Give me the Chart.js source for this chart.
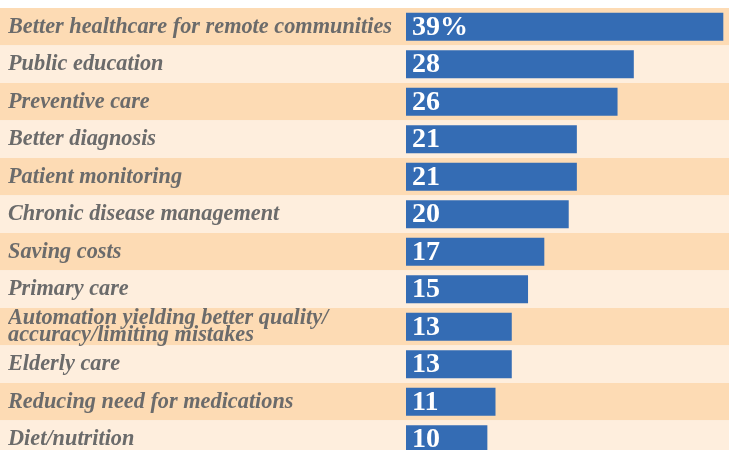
<!DOCTYPE html>
<html>
<head>
<meta charset="utf-8">
<script src="https://cdn.jsdelivr.net/npm/chart.js@4"></script>
<style>
    html, body { margin: 0; padding: 0; background: #ffffff; overflow: hidden; }
    #chart { display: block; }
</style>
</head>
<body>
<canvas id="chart" width="729" height="458"></canvas>
<script>
const categories = [
    'Better healthcare for remote communities',
    'Public education',
    'Preventive care',
    'Better diagnosis',
    'Patient monitoring',
    'Chronic disease management',
    'Saving costs',
    'Primary care',
    ['Automation yielding better quality/', 'accuracy/limiting mistakes'],
    'Elderly care',
    'Reducing need for medications',
    'Diet/nutrition'
];
const values = [39, 28, 26, 21, 21, 20, 17, 15, 13, 13, 11, 10];
const valueLabels = ['39%', '28', '26', '21', '21', '20', '17', '15', '13', '13', '11', '10'];

const bandColors = ['#fddbb4', '#feeedd'];

// alternating row stripes behind everything
const bandsPlugin = {
    id: 'bands',
    beforeDraw(chart) {
        const ctx = chart.ctx;
        const y = chart.scales.y;
        const rowH = (y.bottom - y.top) / categories.length;
        ctx.save();
        categories.forEach((c, i) => {
            const mid = y.getPixelForValue(i);
            ctx.fillStyle = bandColors[i % 2];
            ctx.fillRect(0, mid - rowH / 2, chart.width, rowH);
        });
        ctx.restore();
    }
};

// white numbers inside the bars
const valuePlugin = {
    id: 'values',
    afterDatasetsDraw(chart) {
        const ctx = chart.ctx;
        const meta = chart.getDatasetMeta(0);
        ctx.save();
        ctx.fillStyle = '#ffffff';
        ctx.font = 'bold 28px "Liberation Serif"';
        ctx.textAlign = 'left';
        ctx.textBaseline = 'middle';
        meta.data.forEach((bar, i) => {
            ctx.fillText(valueLabels[i], bar.base + 6, bar.y + 1);
        });
        ctx.restore();
    }
};

new Chart(document.getElementById('chart'), {
    type: 'bar',
    data: {
        labels: categories,
        datasets: [{
            data: values,
            backgroundColor: '#346cb4',
            borderWidth: 0,
            categoryPercentage: 1,
            barPercentage: 0.75
        }]
    },
    options: {
        indexAxis: 'y',
        responsive: false,
        animation: false,
        layout: { padding: { top: 8, left: 8, right: 0, bottom: 0 } },
        plugins: {
            legend: { display: false },
            tooltip: { enabled: false }
        },
        scales: {
            x: {
                display: false,
                min: 0,
                max: 39.7
            },
            y: {
                grid: { display: false, drawTicks: false },
                border: { display: false },
                afterFit(scale) {
                    scale.width = 398;
                    scale.paddingTop = 0;
                    scale.paddingBottom = 0;
                },
                ticks: {
                    crossAlign: 'far',
                    autoSkip: false,
                    padding: 0,
                    color: '#6b6b6b',
                    font: {
                        family: '"Liberation Serif"',
                        size: 22.3,
                        style: 'italic',
                        weight: 'bold',
                        lineHeight: 0.75
                    }
                }
            }
        }
    },
    plugins: [bandsPlugin, valuePlugin]
});
</script>
</body>
</html>
